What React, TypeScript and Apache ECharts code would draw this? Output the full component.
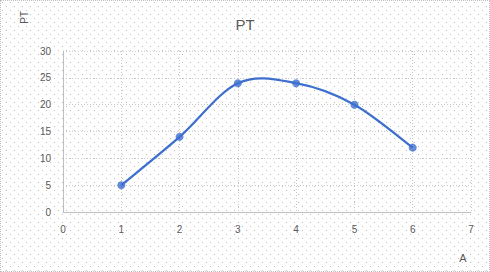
import React, { useEffect, useRef } from "react";
import * as echarts from "echarts";

const xValues = [1, 2, 3, 4, 5, 6];
const ptValues = [5, 14, 24, 24, 20, 12];
const titleText = "PT";
const xAxisName = "A";
const yAxisName = "PT";

const dotPattern =
  "url(\"data:image/svg+xml;utf8,<svg xmlns='http://www.w3.org/2000/svg' width='8' height='8'><rect x='1' y='1' width='1' height='1' fill='%23bdbdbd'/><rect x='5' y='5' width='1' height='1' fill='%23bdbdbd'/></svg>\")";

const BLUE = "#3d6fcf";

export default function App() {
  const ref = useRef<HTMLDivElement>(null);
  useEffect(() => {
    if (!ref.current) return;
    const chart = echarts.init(ref.current, undefined, { renderer: "svg" });
    const font = "Liberation Sans, Arial, sans-serif";
    const points = xValues.map((x, i) => [x, ptValues[i]]);
    chart.setOption({
      animation: false,
      title: {
        text: titleText,
        left: "center",
        top: 11,
        textStyle: { fontFamily: font, fontSize: 15, fontWeight: "normal", color: "#595959" },
      },
      grid: { left: 62, right: 18, top: 50, bottom: 59 },
      xAxis: {
        type: "value",
        min: 0,
        max: 7,
        interval: 1,
        axisLine: { show: true, lineStyle: { color: "#bfbfbf", width: 1 } },
        axisTick: { show: false },
        axisLabel: { fontFamily: font, fontSize: 10, color: "#595959", margin: 12 },
        splitLine: { show: true, lineStyle: { color: "#c8c8c8", type: [1, 2], width: 1 } },
      },
      yAxis: {
        type: "value",
        min: 0,
        max: 30,
        interval: 5,
        axisLine: { show: true, lineStyle: { color: "#bfbfbf", width: 1 } },
        axisTick: { show: false },
        axisLabel: { fontFamily: font, fontSize: 10, color: "#595959", margin: 12 },
        splitLine: { show: true, lineStyle: { color: "#c8c8c8", type: [1, 2], width: 1 } },
      },
      graphic: [
        {
          type: "text",
          x: 18,
          y: 10,
          rotation: Math.PI / 2,
          style: {
            text: yAxisName,
            fontFamily: font,
            fontSize: 10,
            fill: "#595959",
            align: "right",
          },
        },
        {
          type: "text",
          x: 462,
          y: 251,
          style: {
            text: xAxisName,
            fontFamily: font,
            fontSize: 11,
            fill: "#595959",
            align: "center",
          },
        },
      ],
      series: [
        {
          type: "custom",
          data: points,
          renderItem: (params: any, api: any) => {
            const i = params.dataIndex;
            if (i >= points.length - 1) return null;
            const c = (k: number) => {
              const j = Math.max(0, Math.min(points.length - 1, k));
              return api.coord(points[j]);
            };
            const p0 = c(i - 1);
            const p1 = c(i);
            const p2 = c(i + 1);
            const p3 = c(i + 2);
            const t = 1 / 6;
            return {
              type: "bezierCurve",
              shape: {
                x1: p1[0],
                y1: p1[1],
                cpx1: p1[0] + (p2[0] - p0[0]) * t,
                cpy1: p1[1] + (p2[1] - p0[1]) * t,
                cpx2: p2[0] - (p3[0] - p1[0]) * t,
                cpy2: p2[1] - (p3[1] - p1[1]) * t,
                x2: p2[0],
                y2: p2[1],
              },
              style: { stroke: BLUE, lineWidth: 2.25, fill: "none" },
            };
          },
          z: 2,
        },
        {
          type: "scatter",
          data: points,
          symbol: "circle",
          symbolSize: 8,
          itemStyle: { color: BLUE },
          z: 3,
        },
      ],
    });
    return () => chart.dispose();
  }, []);
  return (
    <div
      style={{
        position: "fixed",
        left: 0,
        top: 0,
        width: 490,
        height: 272,
        boxSizing: "border-box",
        border: "1px dotted #bfbfbf",
        backgroundColor: "#ffffff",
        backgroundImage: dotPattern,
      }}
    >
      <div ref={ref} style={{ width: 488, height: 270 }} />
    </div>
  );
}
